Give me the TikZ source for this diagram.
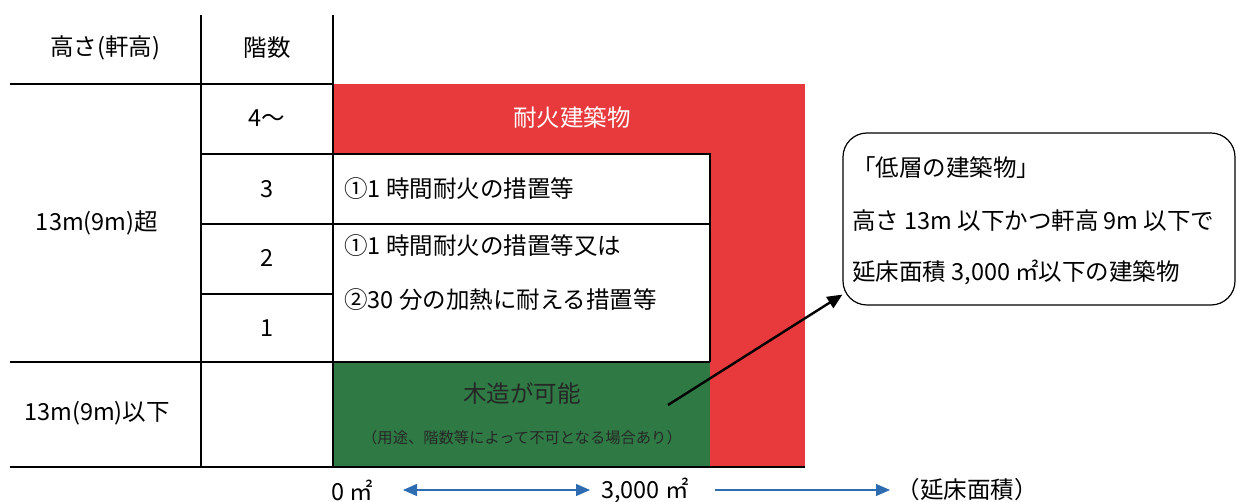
\documentclass[tikz,border=0pt]{standalone}
\usepackage{fontspec}
\setmainfont{Noto Sans CJK JP}
\usetikzlibrary{arrows.meta,calc}
\definecolor{firered}{RGB}{232,58,60}
\definecolor{woodgreen}{RGB}{47,122,68}
\definecolor{axisblue}{RGB}{46,108,178}
\tikzset{
  grid/.style={line width=1.2pt,black},
  lbl/.style={font=\fontsize{23.5}{27}\selectfont,inner sep=0pt},
  lbll/.style={lbl,anchor=west},
  small/.style={font=\fontsize{15.3}{18}\selectfont,inner sep=0pt},
  callout/.style={draw,line width=1.2pt,rounded corners=24pt,minimum width=392pt,minimum height=172pt,inner sep=0pt},
  blueax/.style={axisblue,line width=1.3pt,{Triangle[length=14pt,width=12pt]}-{Triangle[length=14pt,width=12pt]}},
  blueone/.style={axisblue,line width=1.3pt,-{Triangle[length=14pt,width=12pt]}}
}
\begin{document}
\begin{tikzpicture}[x=1pt,y=-1pt]
\useasboundingbox (0,0) rectangle (1237,502);
% regions
\fill[firered] (333,84) rectangle (805,467);
\fill[white] (333,154) rectangle (710,362);
\fill[woodgreen] (333,362) rectangle (710,467);
% grid
\draw[grid] (201,15) -- (201,467);
\draw[grid] (333,15) -- (333,467);
\draw[grid] (10,84) -- (333,84);
\draw[grid] (201,154) -- (710,154) -- (710,362);
\draw[grid] (201,224) -- (710,224);
\draw[grid] (201,294) -- (333,294);
\draw[grid] (10,362) -- (710,362);
\draw[grid] (10,467) -- (805,467);
% header
\node[lbl] (hh) at (105,48) {高さ(軒高)};
\node[lbl] (fl) at (267,48) {階数};
\node[lbl] (f4) at (267,118) {4〜};
\node[lbl] (f3) at (267,189) {3};
\node[lbl] (f2) at (267,258) {2};
\node[lbl] (f1) at (267,328) {1};
\node[lbl] (over) at (97,223) {13m(9m)超};
\node[lbl] (under) at (97,413) {13m(9m)以下};
% region texts
\node[lbl,text=white] (fire) at (572,118) {耐火建築物};
\node[lbll] (t3) at (344,189) {①1 時間耐火の措置等};
\node[lbll] (t2a) at (344,246) {①1 時間耐火の措置等又は};
\node[lbll] (t2b) at (344,300) {②30 分の加熱に耐える措置等};
\node[lbl,text=black!85] (wood) at (522,393) {木造が可能};
\node[small,text=black!85] (woodnote) at (522,438) {（用途、階数等によって不可となる場合あり）};
% callout
\node[callout] (call) at (1039,219) {};
\node[lbll] (c1) at (852,168) {「低層の建築物」};
\node[lbll] (c2) at (852,221) {高さ 13m 以下かつ軒高 9m 以下で};
\node[lbll] (c3) at (852,272) {延床面積 3,000 ㎡以下の建築物};
\coordinate (astart) at (668,405);
\draw[line width=2.4pt,-{Triangle[length=15pt,width=13pt]}] (astart) -- ($(call.south west)+(0,-11)$);
% axis
\node[lbl] (zero) at (352,490) {0 ㎡};
\node[lbl] (three) at (645,490) {3,000 ㎡};
\node[lbl] (area) at (967,490) {（延床面積）};
\draw[blueax] (403,490) -- (590,490);
\draw[blueone] (715,490) -- (890,490);
\end{tikzpicture}
\end{document}
